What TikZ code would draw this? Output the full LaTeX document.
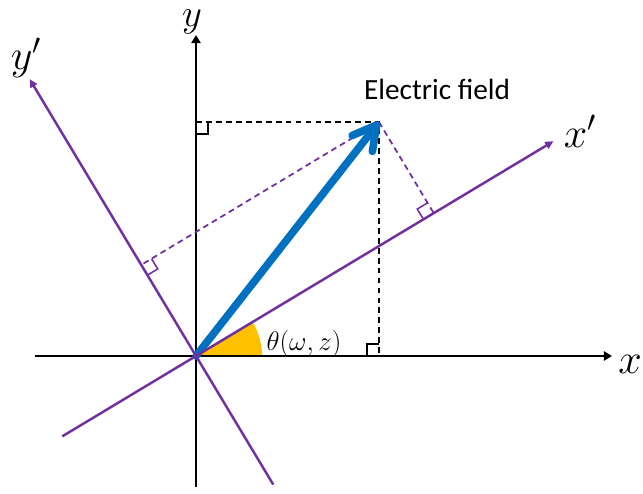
\RequirePackage{fix-cm}
\documentclass[tikz,border=0pt]{standalone}
\usepackage{fontspec}
\setmainfont{Carlito}
\usetikzlibrary{arrows.meta,calc}
\definecolor{vio}{HTML}{7030A0}
\definecolor{efblue}{HTML}{0070C0}
\definecolor{gold}{HTML}{FFC000}
\begin{document}
\begin{tikzpicture}[x=0.03cm,y=0.03cm,
  axis/.style={line width=2.1pt,black,-{Triangle[length=7pt,width=8pt]}},
  rot/.style={line width=2.1pt,vio,-{Triangle[length=7pt,width=6.5pt]}},
  bdash/.style={line width=1.4pt,black,dash pattern=on 5pt off 3.5pt},
  vdash/.style={line width=1.5pt,vio,dash pattern=on 5pt off 3.5pt},
  rmark/.style={line width=1.3pt},
  lbl/.style={font=\fontsize{36}{40}\selectfont,anchor=base,inner sep=0pt}]
\useasboundingbox (0,0) rectangle (643,493);
\coordinate (O) at (196,137);
\coordinate (E) at (379,371);
\coordinate (xl) at (35,137);
\coordinate (xr) at (612,137);
\coordinate (yb) at (196,6);
\coordinate (yt) at (196,458);
\coordinate (xpa) at ($(O)+(211:156)$);
\coordinate (xpb) at ($(O)+(31:417)$);
\coordinate (ypa) at ($(O)+(-59:150)$);
\coordinate (ypb) at ($(O)+(121:323)$);
\coordinate (F1) at ($(xpa)!(E)!(xpb)$);
\coordinate (F2) at ($(ypa)!(E)!(ypb)$);
\coordinate (Ey) at (196,371);
\coordinate (Ex) at (379,137);
% angle sector
\fill[gold] (O) -- ++(0:66) arc[start angle=0,end angle=31,radius=66] -- cycle;
% axes
\draw[axis] (xl) -- (xr);
\draw[axis] (yb) -- (yt);
% projections
\draw[bdash] (Ey) -- (E) -- (Ex);
\draw[vdash] (E) -- (F1);
\draw[vdash] (E) -- (F2);
% right-angle marks
\draw[rmark] ($(Ey)+(0,-12)$) -- ++(12,0) -- ++(0,12);
\draw[rmark] ($(Ex)+(-12,0)$) -- ++(0,12) -- ++(12,0);
\draw[rmark,vio,shift={(F1)},rotate=31] (-12,0) -- (-12,12) -- (0,12);
\draw[rmark,vio,shift={(F2)},rotate=121] (-12,0) -- (-12,-12) -- (0,-12);
% field vector
\draw[efblue,line width=6.5pt,line cap=round,-{Straight Barb[length=20pt,width=22pt,line cap=round,line join=round]}] (O) -- (E);
% rotated axes
\draw[rot] (xpa) -- (xpb);
\draw[rot] (ypa) -- (ypb);
% labels
\node[lbl,font=\fontsize{33}{37}\selectfont] (ly) at (192,466) {$y$};
\node[lbl] (lx) at (630,120) {$x$};
\node[lbl] (lyp) at (26,423) {$y'$};
\node[lbl] (lxp) at (580,346) {$x'$};
\node[anchor=base,font=\fontsize{25}{30}\selectfont] (lE) at (437,393) {Electric field};
\node[anchor=base,font=\fontsize{23}{27}\selectfont] (lt) at (304,143) {$\theta(\omega,z)$};
\end{tikzpicture}
\end{document}
